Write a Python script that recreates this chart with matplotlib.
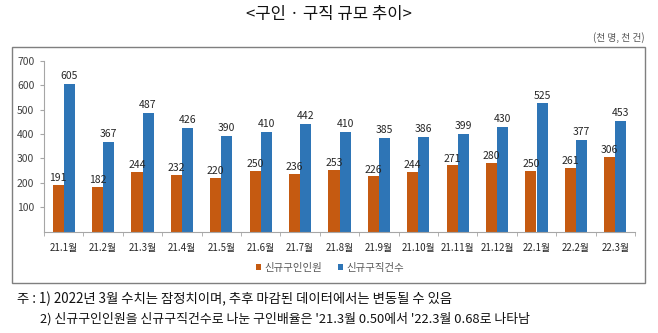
import matplotlib
matplotlib.use("Agg")
import matplotlib.pyplot as plt
from matplotlib.patches import Rectangle
import numpy as np

plt.rcParams['font.family'] = ['Noto Sans CJK KR', 'DejaVu Sans']

months = ['21.1월', '21.2월', '21.3월', '21.4월', '21.5월', '21.6월', '21.7월', '21.8월',
          '21.9월', '21.10월', '21.11월', '21.12월', '22.1월', '22.2월', '22.3월']
job_openings = [191, 182, 244, 232, 220, 250, 236, 253, 226, 244, 271, 280, 250, 261, 306]
job_seekers = [605, 367, 487, 426, 390, 410, 442, 410, 385, 386, 399, 430, 525, 377, 453]
series_names = ['신규구인인원', '신규구직건수']
yticks = [100, 200, 300, 400, 500, 600, 700]

orange = '#C55A11'
blue = '#2E75B6'

W, H = 658, 333
fig = plt.figure(figsize=(W / 100, H / 100), dpi=100)

# outer frame around chart area
fig.patches.append(Rectangle((12 / W, 1 - 283 / H), (645 - 12) / W, (283 - 47) / H,
                             transform=fig.transFigure, fill=False,
                             edgecolor='#7f7f7f', linewidth=1.0))

ax = fig.add_axes([44 / W, 1 - 231.7 / H, (635 - 44) / W, (231.7 - 60.7) / H])
x = np.arange(len(months))
bw = 0.28
b1 = ax.bar(x - bw / 2, job_openings, bw, color=orange, label=series_names[0])
b2 = ax.bar(x + bw / 2, job_seekers, bw, color=blue, label=series_names[1])

for xi, v in zip(x, job_openings):
    ax.text(xi - bw / 2, v + 8, str(v), ha='center', va='bottom',
            fontsize=7.5, color='#262626')
for xi, v in zip(x, job_seekers):
    ax.text(xi + bw / 2, v + 12, str(v), ha='center', va='bottom',
            fontsize=7.5, color='#262626', style='italic')

ax.set_xlim(-0.5, len(months) - 0.5)
ax.set_ylim(0, 700)
ax.set_yticks(yticks)
ax.set_yticklabels([str(t) for t in yticks], fontsize=7.5, color='#404040')
ax.set_xticks(x)
ax.set_xticklabels(months, fontsize=7, color='#262626')
ax.tick_params(axis='x', length=0, pad=8)
ax.set_xticks(np.arange(-0.5, len(months), 1), minor=True)
ax.tick_params(axis='x', which='minor', length=3, color='#a6a6a6')
ax.tick_params(axis='y', length=3, color='#a6a6a6', pad=4)
for s in ['top', 'right']:
    ax.spines[s].set_visible(False)
ax.spines['left'].set_color('#a6a6a6')
ax.spines['bottom'].set_color('#a6a6a6')

leg = fig.legend(handles=[b1, b2], loc='center', bbox_to_anchor=(330 / W, 1 - 268 / H),
                 ncol=2, frameon=False, fontsize=7.5, handlelength=0.5, handleheight=0.5,
                 handletextpad=0.3, columnspacing=1.5)
for t in leg.get_texts():
    t.set_color('#595959')

fig.text(329 / W, 1 - 15 / H, '<구인 · 구직 규모 추이>', ha='center', va='center',
         fontsize=12, color='#111111')
fig.text(645 / W, 1 - 38 / H, '(천 명, 천 건)', ha='right', va='center',
         fontsize=7, color='#555555')
fig.text(17 / W, 1 - 299 / H,
         '주 : 1) 2022년 3월 수치는 잠정치이며, 추후 마감된 데이터에서는 변동될 수 있음',
         ha='left', va='center', fontsize=9.6, color='#111111')
fig.text(40 / W, 1 - 319 / H,
         "2) 신규구인인원을 신규구직건수로 나눈 구인배율은 '21.3월 0.50에서 '22.3월 0.68로 나타남",
         ha='left', va='center', fontsize=9.3, color='#111111')

fig.savefig('out.png', dpi=100)
